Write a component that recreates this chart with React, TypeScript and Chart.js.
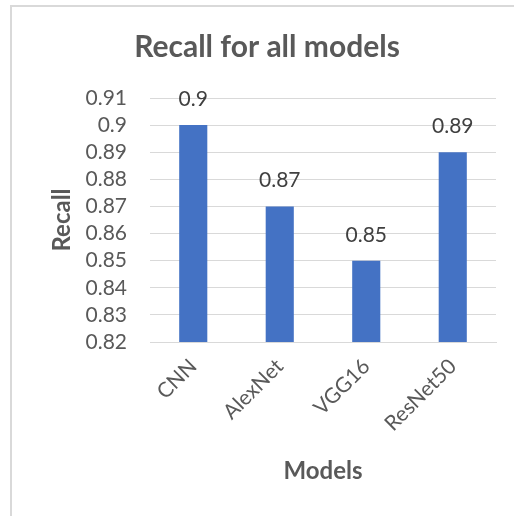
import React, { useEffect, useRef } from 'react';
import { Chart, registerables } from 'chart.js';

Chart.register(...registerables);

const categories = ['CNN', 'AlexNet', 'VGG16', 'ResNet50'];
const recallValues = [0.9, 0.87, 0.85, 0.89];
const yTickValues = [0.82, 0.83, 0.84, 0.85, 0.86, 0.87, 0.88, 0.89, 0.9, 0.91];
const chartTitle = 'Recall for all models';
const xTitle = 'Models';
const yTitle = 'Recall';

const FONT = 'Lato';
const TEXT = '#595959';

export default function App() {
  const ref = useRef<HTMLCanvasElement>(null);

  useEffect(() => {
    document.body.style.margin = '0';
    const canvas = ref.current;
    if (!canvas) return;

    const dataLabels = {
      id: 'dataLabels',
      afterDatasetsDraw(chart: any) {
        const ctx = chart.ctx;
        const meta = chart.getDatasetMeta(0);
        ctx.save();
        ctx.font = `21px ${FONT}`;
        ctx.fillStyle = '#404040';
        ctx.textAlign = 'center';
        ctx.textBaseline = 'alphabetic';
        meta.data.forEach((el: any, i: number) => {
          ctx.fillText(String(recallValues[i]), el.x, el.y - 19);
        });
        ctx.restore();
      },
    };

    const chart = new Chart(canvas, {
      type: 'bar',
      data: {
        labels: categories,
        datasets: [
          {
            label: yTitle,
            data: recallValues,
            backgroundColor: '#4472C4',
            borderWidth: 0,
            barPercentage: 0.325,
            categoryPercentage: 1,
          },
        ],
      },
      plugins: [dataLabels],
      options: {
        responsive: false,
        animation: false,
        devicePixelRatio: 1,
        layout: { padding: { top: 0, left: 38, right: 18, bottom: 0 } },
        plugins: {
          legend: { display: false },
          tooltip: { enabled: false },
          title: {
            display: true,
            text: chartTitle,
            color: TEXT,
            font: { family: FONT, size: 30, weight: 'bold' },
            padding: { top: 29, bottom: 33 },
          },
        },
        scales: {
          x: {
            grid: { display: false, drawTicks: false },
            border: { display: true, color: '#D9D9D9', width: 1 },
            ticks: {
              color: TEXT,
              font: { family: FONT, size: 21 },
              minRotation: 45,
              maxRotation: 45,
              autoSkip: false,
              padding: 12,
            },
            title: {
              display: true,
              text: xTitle,
              color: TEXT,
              font: { family: FONT, size: 24, weight: 'bold' },
              padding: { top: 0, bottom: 30 },
            },
            afterFit(scale: any) {
              scale.height = 174;
            },
          },
          y: {
            min: 0.82,
            max: 0.91,
            grid: { color: '#D9D9D9', lineWidth: 1, drawTicks: false },
            border: { display: false },
            ticks: {
              color: TEXT,
              font: { family: FONT, size: 21 },
              padding: 23,
              autoSkip: false,
              callback: (v: any) => String(Number(Number(v).toFixed(2))),
            },
            afterBuildTicks(scale: any) {
              scale.ticks = yTickValues.map((v) => ({ value: v }));
            },
            title: {
              display: true,
              text: yTitle,
              color: TEXT,
              font: { family: FONT, size: 24, weight: 'bold' },
              padding: { top: 10, bottom: 0 },
            },
            afterFit(scale: any) {
              scale.width = 112;
            },
          },
        },
      },
    });

    return () => chart.destroy();
  }, []);

  return (
    <div style={{ position: 'relative', width: 514, height: 516, overflow: 'hidden', background: '#fff' }}>
      <div
        style={{
          position: 'absolute',
          left: 10,
          top: 5,
          width: 700,
          height: 700,
          borderLeft: '2px solid #D9D9D9',
          borderTop: '2px solid #D9D9D9',
        }}
      />
      <canvas
        ref={ref}
        width={514}
        height={516}
        style={{ position: 'absolute', left: 0, top: 0, width: 514, height: 516, display: 'block' }}
      />
    </div>
  );
}
